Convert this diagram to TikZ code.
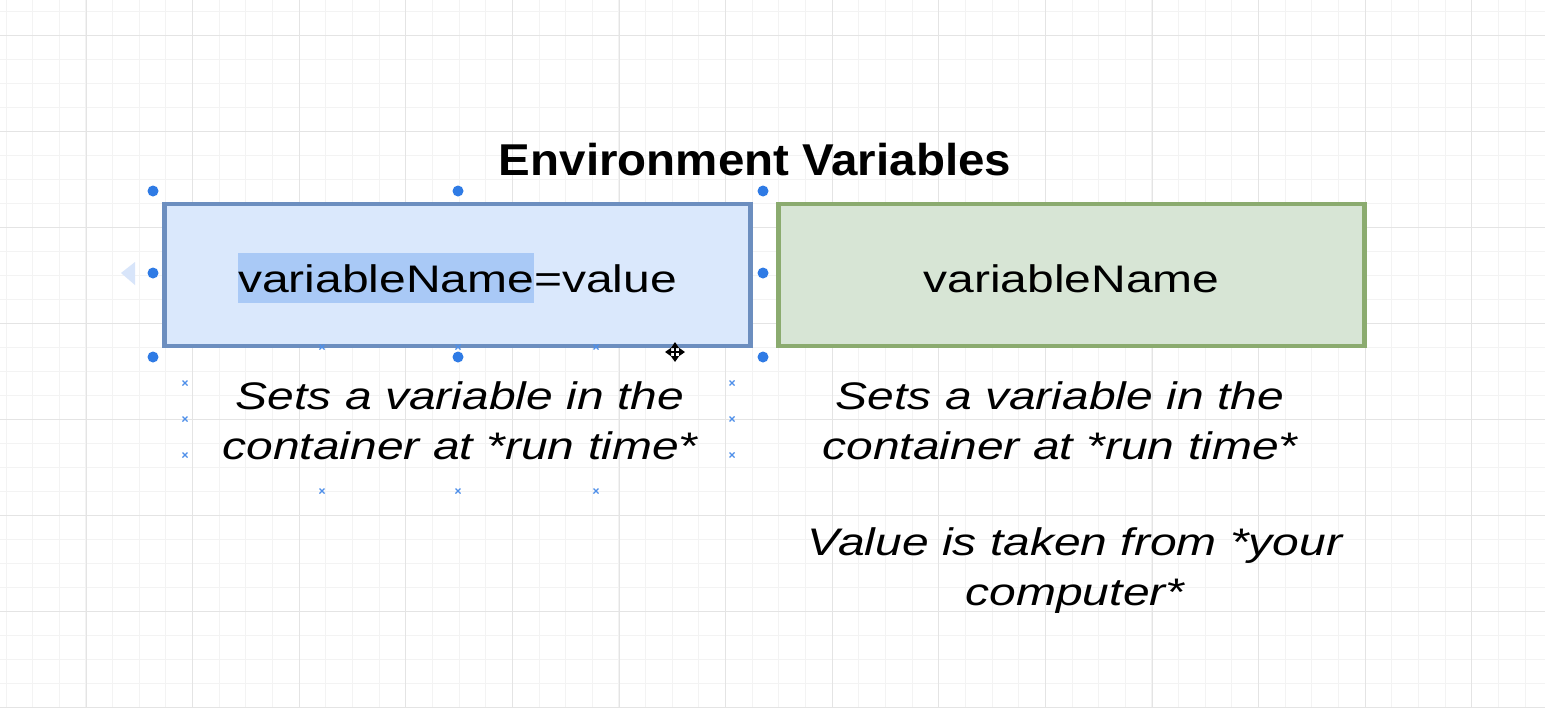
\documentclass[tikz,border=0pt]{standalone}
\usepackage{fontspec}
\setmainfont{Liberation Sans}[FakeStretch=1.25]
\newfontfamily\headfont{Liberation Sans}[FakeStretch=1.065]
\usetikzlibrary{arrows.meta,positioning}
\setlength{\fboxsep}{0pt}
\definecolor{setfill}{HTML}{DAE8FC}
\definecolor{setline}{HTML}{6C8EBF}
\definecolor{getfill}{HTML}{D7E5D5}
\definecolor{getline}{HTML}{8BAB6F}
\definecolor{handle}{HTML}{2F7BE5}
\definecolor{marked}{HTML}{A9C9F6}
\definecolor{tabtip}{HTML}{D8E5FA}
\definecolor{gridminor}{HTML}{F3F3F3}
\definecolor{gridmajor}{HTML}{E4E4E4}

\begin{document}
\begin{tikzpicture}[x=0.5pt, y=-0.5pt,
  varbox/.style = {draw, line width=2.25pt, minimum width=293pt,
      minimum height=71pt, inner sep=0pt, text height=20pt, text depth=3pt,
      font=\fontsize{19.2}{23}\selectfont},
  note/.style = {align=center, inner sep=0pt,
      font=\itshape\fontsize{19.2}{25}\selectfont},
  grip/.style = {{Triangle[length=3pt,width=4pt]}-{Triangle[length=3pt,width=4pt]}}
  ]
  \useasboundingbox (0,0) rectangle (1545,707);
  \fill[white] (0,0) rectangle (1545,707);
  % canvas grid
  \foreach \gx in {0,...,57}
    \draw[gridminor, line width=0.5pt] ({6+26.65*\gx},0) -- ++(0,707);
  \foreach \gy in {0,...,29}
    \draw[gridminor, line width=0.5pt] (0,{11+24*\gy}) -- ++(1545,0);
  \foreach \gx in {0,...,13}
    \draw[gridmajor, line width=0.5pt] ({86+106.6*\gx},0) -- ++(0,707);
  \foreach \gy in {0,...,7}
    \draw[gridmajor, line width=0.5pt] (0,{35+96*\gy}) -- ++(1545,0);
  %
  \node[anchor=base, font=\headfont\bfseries\fontsize{22.3}{26}\selectfont]
    (title) at (755,175) {Environment Variables};
  \node[varbox, draw=setline, fill=setfill] (setbox) at (457.5,275)
    {\colorbox{marked}{\rule[-5.5pt]{0pt}{25pt}variableName}=value};
  \node[varbox, draw=getline, fill=getfill] (getbox) at (1071.5,275)
    {variableName};
  \node[note] (setnote) at (460,421) {Sets a variable in the\\container at *run time*};
  \node[note] (getnote) at (1060,421) {Sets a variable in the\\container at *run time*};
  \node[note] (valnote) at (1075,571) {Value is taken from *your\\computer*};
  % selection of the left box
  \fill[tabtip] (121,273) -- (135,262) -- (135,285) -- cycle;
  \foreach \hx/\hy in {153/191, 458/191, 763/191, 153/273, 763/273,
                       153/357, 458/357, 763/357}
    \fill[handle] (\hx,\hy) circle[radius=5.5];
  \foreach \mx/\my in {322/347, 458/347, 596/347, 185/383, 185/419, 185/455,
                       732/383, 732/419, 732/455, 322/491, 458/491, 596/491}
    \draw[handle!85, line width=0.6pt] (\mx-2.5,\my-2.5) -- (\mx+2.5,\my+2.5)
      (\mx-2.5,\my+2.5) -- (\mx+2.5,\my-2.5);
  % move cursor
  \coordinate (grab) at (675,352);
  \foreach \c/\w in {white/2.2pt, black/0.9pt} {
    \draw[\c, line width=\w, grip] (grab) ++(-10,0) -- ++(20,0);
    \draw[\c, line width=\w, grip] (grab) ++(0,-10) -- ++(0,20);
  }
\end{tikzpicture}
\end{document}
